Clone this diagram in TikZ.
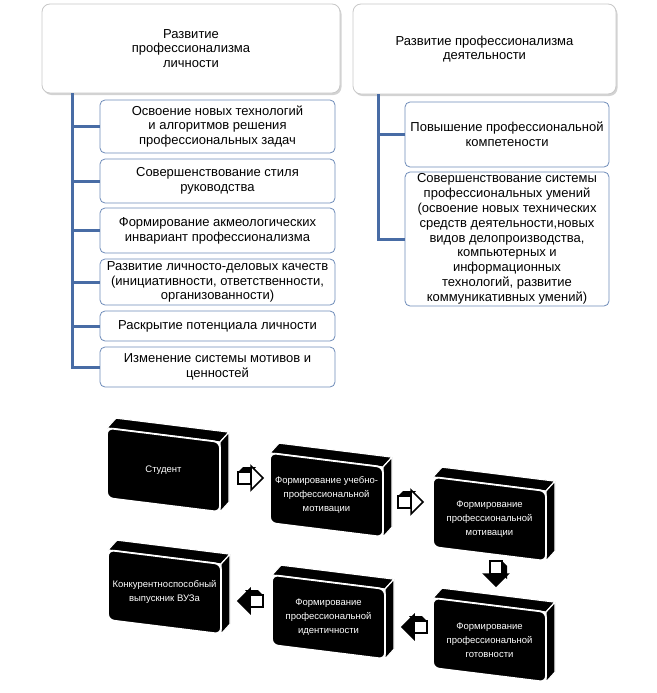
\documentclass[tikz,border=0pt]{standalone}
\usepackage{fontspec}
\setmainfont{Liberation Sans}
\usetikzlibrary{shadows}
\definecolor{trunk}{RGB}{72,108,165}
\definecolor{cbord}{RGB}{110,140,185}
\definecolor{hbord}{RGB}{200,200,200}
\tikzset{
  hdr/.style={draw=hbord, fill=white, rounded corners=8pt, line width=0.8pt,
    drop shadow={shadow xshift=1.5pt, shadow yshift=-2pt, opacity=0.35, fill=gray},
    align=center, inner sep=0pt, font=\fontsize{13}{14.8}\selectfont},
  child/.style={draw=cbord, fill=white, rounded corners=5pt, line width=0.8pt,
    align=center, inner sep=0pt, font=\fontsize{13}{14.8}\selectfont},
  conn/.style={draw=trunk, line width=3pt},
  cubetxt/.style={text=white, align=center, font=\fontsize{9.5}{14}\selectfont, inner sep=0pt},
  cubeface/.style={fill=black, draw=white, line width=1.2pt, line join=round},
  cubefront/.style={fill=black, draw=white, line width=1.8pt, rounded corners=6pt},
  arrline/.style={draw=black, line width=1.5pt, line join=miter},
}
\newcommand{\cubebox}[4]{%
  \begin{scope}[shift={(#2,#3)}, yslant=-0.124]
    \path[cubeface] (0,0) -- (9,-11) -- (122,-11) -- (113,0) -- cycle;
    \path[cubeface] (113,0) -- (122,-11) -- (122,59) -- (113,70) -- cycle;
    \path[cubefront] (0,0) rectangle (113,70);
    \node[cubetxt] (#1) at (56.5,35) {#4};
  \end{scope}}
\newcommand{\blockarrow}[5]{%
  \begin{scope}[shift={(#2,#3)}, #4]
    \coordinate (#1) at (0,0);
    \path[fill=black] (-12,-6) -- (-7,-11) -- (6,-11) -- (1,-6) -- cycle;
    \path[fill=white, arrline] (-12,-6) rectangle (1,6);
    \path[fill=#5, arrline] (1,-12) -- (13,0) -- (1,12) -- cycle;
  \end{scope}}
\begin{document}
\begin{tikzpicture}[x=1pt, y=-1pt]
\useasboundingbox (0,0) rectangle (656,693);
% headers
\node[hdr, minimum width=298pt, minimum height=89pt] (hL) at (191,48.5) {Развитие\\профессионализма\\личности};
\node[hdr, minimum width=263pt, minimum height=90pt] (hR) at (484.5,49) {Развитие профессионализма\\деятельности};
% left children
\node[child, minimum width=235pt, minimum height=53pt] (c1) at (217.5,126.5) {Освоение новых технологий\\и алгоритмов решения\\профессиональных задач};
\node[child, minimum width=235pt, minimum height=44pt] (c2) at (217.5,181) {Совершенствование стиля\\руководства};
\node[child, minimum width=235pt, minimum height=45pt] (c3) at (217.5,230.5) {Формирование акмеологических\\инвариант профессионализма};
\node[child, minimum width=235pt, minimum height=46pt] (c4) at (217.5,282) {Развитие личносто-деловых качеств\\(инициативности, ответственности,\\организованности)};
\node[child, minimum width=235pt, minimum height=30pt] (c5) at (217.5,326) {Раскрытие потенциала личности};
\node[child, minimum width=235pt, minimum height=40pt] (c6) at (217.5,367) {Изменение системы мотивов и\\ценностей};
% right children
\node[child, minimum width=204pt, minimum height=65pt] (r1) at (507,134.5) {Повышение профессиональной\\компетености};
\node[child, minimum width=204pt, minimum height=134pt] (r2) at (507,239) {Совершенствование системы\\профессиональных умений\\(освоение новых технических\\средств деятельности,новых\\видов делопроизводства,\\компьютерных и\\информационных\\технологий, развитие\\коммуникативных умений)};
% connectors
\coordinate (lt) at (72,0);
\coordinate (rt) at (378,0);
\draw[conn] (hL.south -| lt) |- (c6.west);
\foreach \c in {c1,c2,c3,c4,c5} \draw[conn] (lt |- \c.west) -- (\c.west);
\draw[conn] (hR.south -| rt) |- (r2.west);
\draw[conn] (rt |- r1.west) -- (r1.west);
% 3D boxes
\cubebox{b1}{107}{428}{Студент}
\cubebox{b2}{270}{453}{Формирование учебно-\\профессиональной\\мотивации}
\cubebox{b3}{433}{477}{Формирование\\профессиональной\\мотивации}
\cubebox{b4}{433}{598}{Формирование\\профессиональной\\готовности}
\cubebox{b5}{272}{575}{Формирование\\профессиональной\\идентичности}
\cubebox{b6}{108}{550}{Конкурентноспособный\\выпускник ВУЗа}
% block arrows
\blockarrow{a1}{250}{478}{rotate=0}{white}
\blockarrow{a2}{410}{502}{rotate=0}{white}
\blockarrow{a3}{496}{573}{rotate=-90}{black}
\blockarrow{a4}{415}{627}{xscale=-1}{black}
\blockarrow{a5}{251}{601}{xscale=-1}{black}
\end{tikzpicture}
\end{document}
